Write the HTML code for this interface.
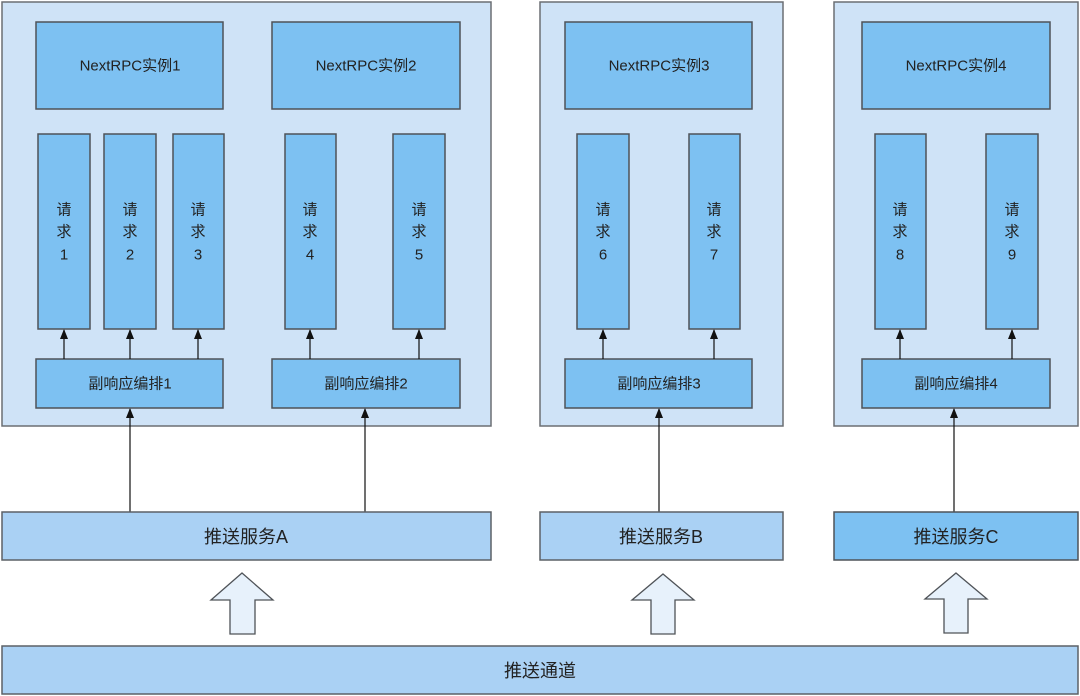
<!DOCTYPE html>
<html><head><meta charset="utf-8"><style>
html,body{margin:0;padding:0;background:#fff}
svg{display:block}
text{font-family:"Liberation Sans","Noto Sans CJK SC",sans-serif;fill:#222;text-anchor:middle;dominant-baseline:central}
.c{fill:#cfe3f7;stroke:#6b6f73;stroke-width:1.5}
.b{fill:#7dc1f2;stroke:#4f5358;stroke-width:1.5}
.s{fill:#aad1f4;stroke:#5c6166;stroke-width:1.5}
.l{stroke:#111;stroke-width:1.2}
.h{fill:#e7f1fb;stroke:#4f5358;stroke-width:1.3}
</style></head><body>
<svg width="1080" height="696" viewBox="0 0 1080 696">
<defs><marker id="a" markerWidth="10" markerHeight="10" refX="9" refY="5" orient="auto" markerUnits="userSpaceOnUse"><path d="M0,1 L10,5 L0,9 z" fill="#111"/></marker></defs>
<rect class="c" x="2" y="2" width="489" height="424"/>
<rect class="c" x="540" y="2" width="243" height="424"/>
<rect class="c" x="834" y="2" width="244" height="424"/>
<g font-size="15">
<rect class="b" x="36" y="22" width="187" height="87"/><text x="130" y="66">NextRPC实例1</text>
<rect class="b" x="272" y="22" width="188" height="87"/><text x="366" y="66">NextRPC实例2</text>
<rect class="b" x="565" y="22" width="187" height="87"/><text x="659" y="66">NextRPC实例3</text>
<rect class="b" x="862" y="22" width="188" height="87"/><text x="956" y="66">NextRPC实例4</text>
<rect class="b" x="36" y="359" width="187" height="49"/><text x="130" y="384">副响应编排1</text>
<rect class="b" x="272" y="359" width="188" height="49"/><text x="366" y="384">副响应编排2</text>
<rect class="b" x="565" y="359" width="187" height="49"/><text x="659" y="384">副响应编排3</text>
<rect class="b" x="862" y="359" width="188" height="49"/><text x="956" y="384">副响应编排4</text>
</g>
<g font-size="15">
<rect class="b" x="38" y="134" width="52" height="195"/><text x="64" y="210">请</text><text x="64" y="232">求</text><text x="64" y="255">1</text>
<rect class="b" x="104" y="134" width="52" height="195"/><text x="130" y="210">请</text><text x="130" y="232">求</text><text x="130" y="255">2</text>
<rect class="b" x="173" y="134" width="51" height="195"/><text x="198" y="210">请</text><text x="198" y="232">求</text><text x="198" y="255">3</text>
<rect class="b" x="285" y="134" width="51" height="195"/><text x="310" y="210">请</text><text x="310" y="232">求</text><text x="310" y="255">4</text>
<rect class="b" x="393" y="134" width="52" height="195"/><text x="419" y="210">请</text><text x="419" y="232">求</text><text x="419" y="255">5</text>
<rect class="b" x="577" y="134" width="52" height="195"/><text x="603" y="210">请</text><text x="603" y="232">求</text><text x="603" y="255">6</text>
<rect class="b" x="689" y="134" width="51" height="195"/><text x="714" y="210">请</text><text x="714" y="232">求</text><text x="714" y="255">7</text>
<rect class="b" x="875" y="134" width="51" height="195"/><text x="900" y="210">请</text><text x="900" y="232">求</text><text x="900" y="255">8</text>
<rect class="b" x="986" y="134" width="52" height="195"/><text x="1012" y="210">请</text><text x="1012" y="232">求</text><text x="1012" y="255">9</text>
</g>
<g>
<line class="l" x1="64" y1="359" x2="64" y2="330" marker-end="url(#a)"/>
<line class="l" x1="130" y1="359" x2="130" y2="330" marker-end="url(#a)"/>
<line class="l" x1="198" y1="359" x2="198" y2="330" marker-end="url(#a)"/>
<line class="l" x1="310" y1="359" x2="310" y2="330" marker-end="url(#a)"/>
<line class="l" x1="419" y1="359" x2="419" y2="330" marker-end="url(#a)"/>
<line class="l" x1="603" y1="359" x2="603" y2="330" marker-end="url(#a)"/>
<line class="l" x1="714" y1="359" x2="714" y2="330" marker-end="url(#a)"/>
<line class="l" x1="900" y1="359" x2="900" y2="330" marker-end="url(#a)"/>
<line class="l" x1="1012" y1="359" x2="1012" y2="330" marker-end="url(#a)"/>
<line class="l" x1="130" y1="512" x2="130" y2="409" marker-end="url(#a)"/>
<line class="l" x1="365" y1="512" x2="365" y2="409" marker-end="url(#a)"/>
<line class="l" x1="659" y1="512" x2="659" y2="409" marker-end="url(#a)"/>
<line class="l" x1="954" y1="512" x2="954" y2="409" marker-end="url(#a)"/>
</g>
<g font-size="18">
<rect class="s" x="2" y="512" width="489" height="48"/><text x="246" y="537">推送服务A</text>
<rect class="s" x="540" y="512" width="243" height="48"/><text x="661" y="537">推送服务B</text>
<rect class="b" x="834" y="512" width="244" height="48"/><text x="956" y="537">推送服务C</text>
<rect class="s" x="2" y="646" width="1076" height="48"/><text x="540" y="671">推送通道</text>
</g>
<path class="h" d="M242,573 L273,600 L255,600 L255,634 L230,634 L230,600 L211,600 Z"/>
<path class="h" d="M663,574 L694,600 L675,600 L675,634 L651,634 L651,600 L632,600 Z"/>
<path class="h" d="M956,573 L987,599 L968,599 L968,633 L944,633 L944,599 L925,599 Z"/>
</svg>
</body></html>
